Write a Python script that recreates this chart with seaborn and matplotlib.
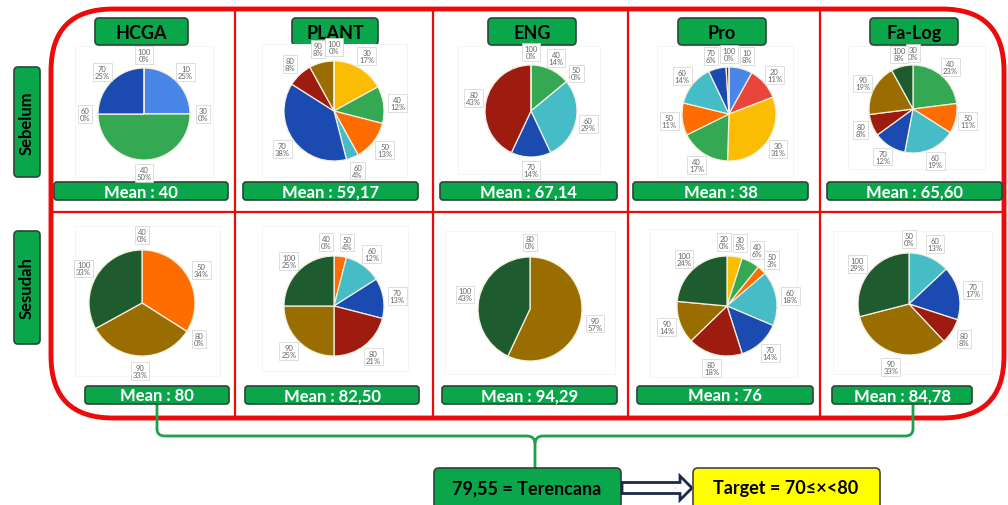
import numpy as np
import matplotlib
matplotlib.use("Agg")
import matplotlib.pyplot as plt
import seaborn as sns
from matplotlib.patches import FancyBboxPatch, FancyArrow, PathPatch
from matplotlib.path import Path

sns.set_theme(style="white")
plt.rcParams['font.family'] = ['Lato', 'DejaVu Sans']

# ---- data ----
units = ["HCGA", "PLANT", "ENG", "Pro", "Fa-Log"]
phases = ["Sebelum", "Sesudah"]

score_keys = [10, 20, 30, 40, 50, 60, 70, 80, 90, 100]
score_hex = ["#4a86e8", "#e8453c", "#fbbc04", "#34a853", "#ff6d01",
             "#46bdc6", "#1b4bb0", "#9e1b10", "#9a6d00", "#1e5c30"]

# sebelum (before)
hcga_pre_cat = [10, 30, 40, 60, 70, 100]
hcga_pre_pct = [25, 0, 50, 0, 25, 0]
plant_pre_cat = [30, 40, 50, 60, 70, 80, 90, 100]
plant_pre_pct = [17, 12, 13, 4, 38, 8, 8, 0]
eng_pre_cat = [40, 50, 60, 70, 80, 100]
eng_pre_pct = [14, 0, 29, 14, 43, 0]
pro_pre_cat = [10, 20, 30, 40, 50, 60, 70, 80, 100]
pro_pre_pct = [8, 11, 31, 17, 11, 14, 6, 1, 0]
falog_pre_cat = [30, 40, 50, 60, 70, 80, 90, 100]
falog_pre_pct = [0, 23, 11, 19, 12, 8, 19, 8]

# sesudah (after)
hcga_post_cat = [40, 50, 80, 90, 100]
hcga_post_pct = [0, 34, 0, 33, 33]
plant_post_cat = [40, 50, 60, 70, 80, 90, 100]
plant_post_pct = [0, 4, 12, 13, 21, 25, 25]
eng_post_cat = [80, 90, 100]
eng_post_pct = [0, 57, 43]
pro_post_cat = [20, 30, 40, 50, 60, 70, 80, 90, 100]
pro_post_pct = [0, 5, 6, 3, 18, 14, 18, 14, 24]
falog_post_cat = [50, 60, 70, 80, 90, 100]
falog_post_pct = [0, 13, 17, 8, 33, 29]

hidden_labels = {("Pro", "Sebelum"): [80]}

pre_means = ["40", "59,17", "67,14", "38", "65,60"]
post_means = ["80", "82,50", "94,29", "76", "84,78"]
overall_mean = "79,55"
overall_label = "Terencana"
target_text = "70≤×<80"

pies = {
    ("HCGA", "Sebelum"): (hcga_pre_cat, hcga_pre_pct),
    ("PLANT", "Sebelum"): (plant_pre_cat, plant_pre_pct),
    ("ENG", "Sebelum"): (eng_pre_cat, eng_pre_pct),
    ("Pro", "Sebelum"): (pro_pre_cat, pro_pre_pct),
    ("Fa-Log", "Sebelum"): (falog_pre_cat, falog_pre_pct),
    ("HCGA", "Sesudah"): (hcga_post_cat, hcga_post_pct),
    ("PLANT", "Sesudah"): (plant_post_cat, plant_post_pct),
    ("ENG", "Sesudah"): (eng_post_cat, eng_post_pct),
    ("Pro", "Sesudah"): (pro_post_cat, pro_post_pct),
    ("Fa-Log", "Sesudah"): (falog_post_cat, falog_post_pct),
}

palette = dict(zip(score_keys, sns.color_palette(score_hex)))

# ---- layout (pixels) ----
W, H = 1008, 506
# plot area box, pie centre, radius
pie_layout = {
    ("HCGA", "Sebelum"): ((75, 47, 213, 178), (144, 115), 46),
    ("PLANT", "Sebelum"): ((262, 45, 407, 178), (334, 112), 50),
    ("ENG", "Sebelum"): ((458, 47, 600, 175), (531, 112), 46),
    ("Pro", "Sebelum"): ((657, 47, 793, 178), (729, 115), 47),
    ("Fa-Log", "Sebelum"): ((848, 47, 985, 170), (913, 110), 44),
    ("HCGA", "Sesudah"): ((75, 227, 220, 377), (142, 304), 53),
    ("PLANT", "Sesudah"): ((262, 227, 408, 372), (334, 307), 50),
    ("ENG", "Sesudah"): ((445, 232, 615, 375), (530, 310), 52),
    ("Pro", "Sesudah"): ((650, 230, 797, 378), (727, 307), 50),
    ("Fa-Log", "Sesudah"): ((833, 232, 992, 375), (909, 305), 51),
}
# small nudges for crowded labels (pixels)
label_nudge = {("PLANT", "Sesudah"): {40: (-8, 0), 50: (5, 0)},
               ("Pro", "Sesudah"): {20: (-3, 0), 30: (3, 0)},
               ("Pro", "Sebelum"): {70: (-3, 0), 10: (3, 0)}}
header_boxes = [(95, 188), (292, 378), (488, 576), (678, 766), (870, 958)]
pre_mean_boxes = [(54, 228), (243, 418), (440, 617), (633, 808), (827, 1002)]
post_mean_boxes = [(85, 229), (245, 419), (442, 617), (637, 813), (832, 972)]

GREEN = "#0aa64b"
EDGE = "#2a4634"
RED = "#ee0a0a"

fig = plt.figure(figsize=(W / 100, H / 100), dpi=100)
ax0 = fig.add_axes([0, 0, 1, 1])
ax0.set_xlim(0, W)
ax0.set_ylim(H, 0)
ax0.axis("off")


def gbox(ax, x0, y0, x1, y1, fc=GREEN, ec=EDGE, r=4, lw=1.2):
    ax.add_patch(FancyBboxPatch((x0, y0), x1 - x0, y1 - y0,
                                boxstyle=f"round,pad=0,rounding_size={r}",
                                fc=fc, ec=ec, lw=lw, zorder=3))


# red frame and grid
ax0.add_patch(FancyBboxPatch((51, 10), 953, 409,
                             boxstyle="round,pad=0,rounding_size=62",
                             fc="none", ec=RED, lw=3.5, zorder=2))
for xv in [235, 433, 628, 820]:
    ax0.plot([xv, xv], [10, 419], color=RED, lw=1.6, zorder=2)
ax0.plot([51, 1004], [213, 213], color=RED, lw=1.6, zorder=2)

# column headers
for name, (x0, x1) in zip(units, header_boxes):
    gbox(ax0, x0, 19, x1, 46)
    ax0.text((x0 + x1) / 2, 33, name, ha="center", va="center",
             fontsize=13, fontweight="bold", color="black", zorder=4)

# row labels
for name, (y0, y1) in zip(phases, [(68, 178), (232, 345)]):
    gbox(ax0, 14, y0, 40, y1)
    ax0.text(27, (y0 + y1) / 2, name, ha="center", va="center", rotation=90,
             fontsize=12, fontweight="bold", color="black", zorder=4)

# mean boxes
for (x0, x1), m in zip(pre_mean_boxes, pre_means):
    gbox(ax0, x0, 183, x1, 201, r=3)
    ax0.text((x0 + x1) / 2, 192.5, f"Mean : {m}", ha="center", va="center",
             fontsize=12, fontweight="bold", color="white", zorder=4)
for (x0, x1), m in zip(post_mean_boxes, post_means):
    gbox(ax0, x0, 387, x1, 405, r=3)
    ax0.text((x0 + x1) / 2, 396.5, f"Mean : {m}", ha="center", va="center",
             fontsize=12, fontweight="bold", color="white", zorder=4)

# bracket
bg = "#1ea04c"
left = Path([(157, 405), (157, 430), (157, 437), (165, 437), (527, 437), (535, 437), (535, 445), (535, 469)],
            [Path.MOVETO, Path.LINETO, Path.CURVE3, Path.CURVE3, Path.LINETO, Path.CURVE3, Path.CURVE3, Path.LINETO])
right = Path([(913, 403), (913, 430), (913, 437), (905, 437), (543, 437), (535, 437), (535, 445)],
             [Path.MOVETO, Path.LINETO, Path.CURVE3, Path.CURVE3, Path.LINETO, Path.CURVE3, Path.CURVE3])
for p in (left, right):
    ax0.add_patch(PathPatch(p, fc="none", ec=bg, lw=2, zorder=2))

# result boxes and arrow
gbox(ax0, 434, 469, 621, 510, r=5)
ax0.text(527, 489, f"{overall_mean} = {overall_label}", ha="center", va="center",
         fontsize=13, fontweight="bold", color="black", zorder=4)
ax0.add_patch(FancyArrow(622, 489, 70, 0, width=11, head_width=24, head_length=12,
                         length_includes_head=True, fc="white", ec="#1c2a4a", lw=2, zorder=3))
gbox(ax0, 693, 469, 880, 510, fc="#ffff00", ec="#444444", r=5)
ax0.text(786, 489, f"Target = {target_text}", ha="center", va="center",
         fontsize=13, fontweight="bold", color="black", zorder=4)

# pies
for key, (cats, pcts) in pies.items():
    (x0, y0, x1, y1), (cx, cy), r = pie_layout[key]
    ax = fig.add_axes([x0 / W, 1 - y1 / H, (x1 - x0) / W, (y1 - y0) / H])
    wedges, _ = ax.pie(pcts, colors=[palette[c] for c in cats], startangle=90,
                       counterclock=False, radius=r, center=(0, 0),
                       wedgeprops=dict(edgecolor="#f4efdf", linewidth=0.9))
    ax.set_aspect("auto")
    ax.set_xlim(x0 - cx, x1 - cx)
    ax.set_ylim(cy - y1, cy - y0)
    ax.set_frame_on(True)
    for s in ax.spines.values():
        s.set_color("#f4f4f4")
        s.set_linewidth(0.6)
    hide = hidden_labels.get(key, [])
    nudge = label_nudge.get(key, {})
    for w, c, p in zip(wedges, cats, pcts):
        if c in hide:
            continue
        mid = np.deg2rad((w.theta1 + w.theta2) / 2)
        dx, dy = nudge.get(c, (0, 0))
        ax.text(1.28 * r * np.cos(mid) + dx, 1.28 * r * np.sin(mid) + dy, f"{c}\n{p}%",
                ha="center", va="center", fontsize=5.5, color="#666666",
                linespacing=1.0, clip_on=False,
                bbox=dict(boxstyle="square,pad=0.25", fc="white", ec="#d0d0d0", lw=0.5))

fig.savefig("out.png", dpi=100)
